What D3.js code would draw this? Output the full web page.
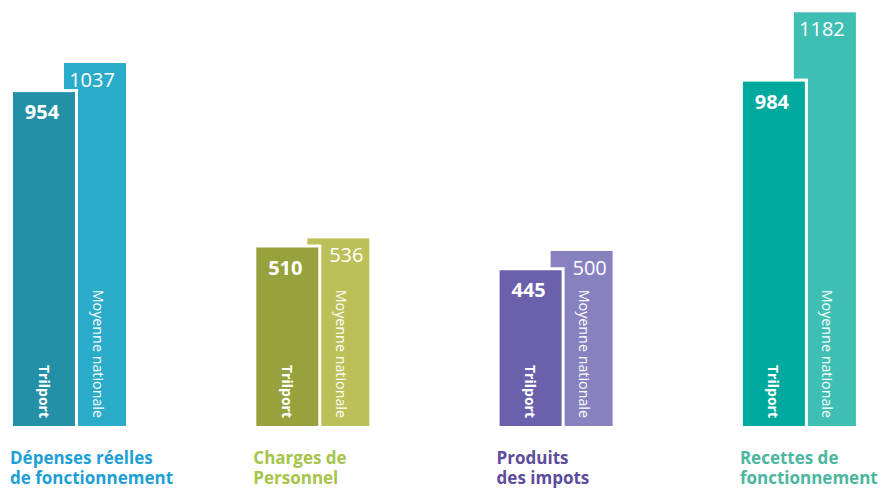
<!DOCTYPE html>
<html>
<head>
<meta charset="utf-8">
<script src="https://cdn.jsdelivr.net/npm/d3@7"></script>
<style>
  html, body { margin: 0; padding: 0; background: #fff; }
  svg { display: block; font-family: "Open Sans", sans-serif; }
</style>
</head>
<body>
<svg id="chart"></svg>
<script>
// data
var categories = ["Dépenses réelles|de fonctionnement", "Charges de|Personnel", "Produits|des impots", "Recettes de|fonctionnement"];
var trilportValues = [954, 510, 445, 984];
var moyenneValues = [1037, 536, 500, 1182];
var seriesNames = ["Trilport", "Moyenne nationale"];

// styles
var darkColors = ["#2490a8", "#98a23c", "#6a60ab", "#00a99d"];
var lightColors = ["#2aabca", "#bcc059", "#8781c0", "#3fbfb3"];
var labelColors = ["#1d9fd6", "#a6c44a", "#5d4b9c", "#4cb6a0"];

var width = 884, height = 488;
var barW = 62, offset = 51, gap = 3;

var svg = d3.select("#chart")
    .attr("width", width)
    .attr("height", height);

var x = d3.scaleBand()
    .domain(categories)
    .range([13, 986.2])
    .paddingInner(0)
    .paddingOuter(0);

var y = d3.scaleLinear()
    .domain([0, 1200])
    .range([426, 6]);

var groups = svg.selectAll(".group")
    .data(categories)
    .enter()
    .append("g")
    .attr("class", "group")
    .attr("transform", function (d) { return "translate(" + x(d) + ",0)"; });

// moyenne nationale (behind)
groups.append("rect")
    .attr("x", offset)
    .attr("y", function (d, i) { return y(moyenneValues[i]); })
    .attr("width", barW)
    .attr("height", function (d, i) { return y(0) - y(moyenneValues[i]); })
    .attr("fill", function (d, i) { return lightColors[i]; });

// white gap around trilport bar
groups.append("rect")
    .attr("x", 0)
    .attr("y", function (d, i) { return y(trilportValues[i]) - gap; })
    .attr("width", barW + gap)
    .attr("height", function (d, i) { return y(0) - y(trilportValues[i]) + gap; })
    .attr("fill", "#fff");

groups.append("rect")
    .attr("x", 0)
    .attr("y", function (d, i) { return y(trilportValues[i]); })
    .attr("width", barW)
    .attr("height", function (d, i) { return y(0) - y(trilportValues[i]); })
    .attr("fill", function (d, i) { return darkColors[i]; });

// value labels
groups.append("text")
    .attr("x", barW / 2 - 2)
    .attr("y", function (d, i) { return y(trilportValues[i]) + 27; })
    .attr("text-anchor", "middle")
    .attr("fill", "#fff")
    .attr("font-weight", 700)
    .attr("font-size", 20)
    .text(function (d, i) { return trilportValues[i]; });

groups.append("text")
    .attr("x", function (d, i) {
        var base = y(moyenneValues[i]) + 24;
        // centre in the visible part when the label falls beside the trilport bar
        if (base > y(trilportValues[i]) - gap) {
            return (barW + gap + offset + barW) / 2 + 1;
        }
        return offset + barW / 2 - 3;
    })
    .attr("y", function (d, i) { return y(moyenneValues[i]) + 24; })
    .attr("text-anchor", "middle")
    .attr("fill", "#fff")
    .attr("font-weight", 400)
    .attr("font-size", 20)
    .text(function (d, i) { return moyenneValues[i]; });

// rotated series names
groups.append("text")
    .attr("transform", "translate(" + (barW / 2) + "," + (y(0) - 8) + ") rotate(90)")
    .attr("text-anchor", "end")
    .attr("dominant-baseline", "central")
    .attr("fill", "#fff")
    .attr("font-weight", 700)
    .attr("font-size", 14)
    .text(seriesNames[0]);

groups.append("text")
    .attr("transform", "translate(" + (offset + barW / 2 + 3) + "," + (y(0) - 8) + ") rotate(90)")
    .attr("text-anchor", "end")
    .attr("dominant-baseline", "central")
    .attr("fill", "#fff")
    .attr("font-weight", 400)
    .attr("font-size", 14.3)
    .text(seriesNames[1]);

// category labels
var cat = groups.append("text")
    .attr("x", -3)
    .attr("y", 464)
    .attr("fill", function (d, i) { return labelColors[i]; })
    .attr("font-weight", 700)
    .attr("font-size", 17);

cat.selectAll("tspan")
    .data(function (d) { return d.split("|"); })
    .enter()
    .append("tspan")
    .attr("x", -3)
    .attr("dy", function (d, j) { return j === 0 ? 0 : 20; })
    .text(function (d) { return d; });
</script>
</body>
</html>
